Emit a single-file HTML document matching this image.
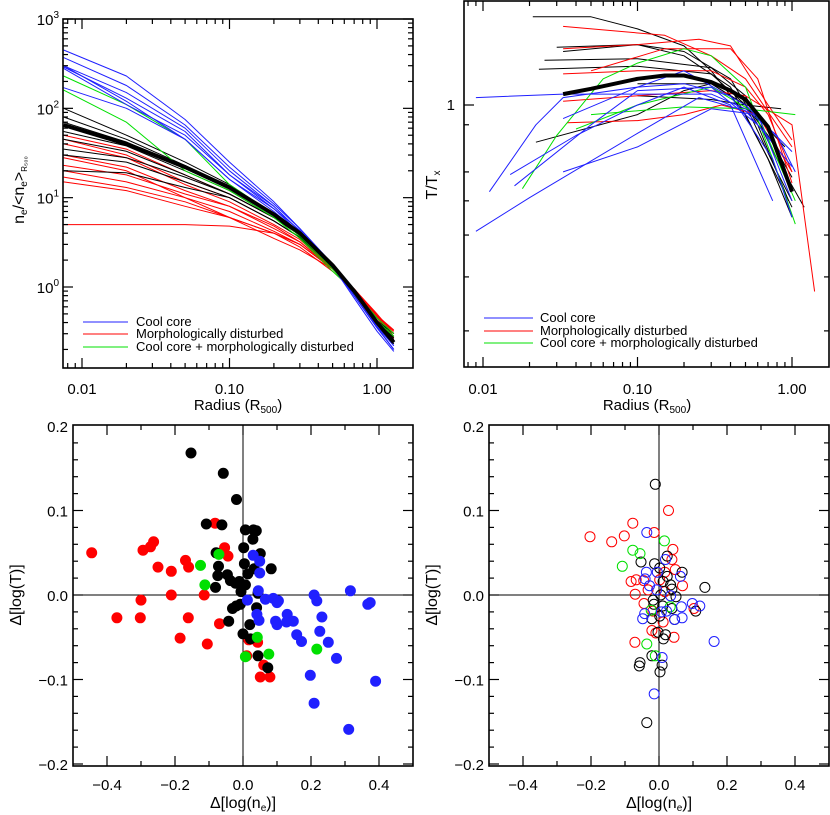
<!DOCTYPE html>
<html><head><meta charset="utf-8"><style>
html,body{margin:0;padding:0;background:#fff;}
svg{display:block;font-family:"Liberation Sans",sans-serif;}
</style></head><body>
<svg id="fig" width="830" height="815" viewBox="0 0 830 815" xmlns="http://www.w3.org/2000/svg"></svg>
<script>
// ---------- DATA ----------
const neRadii = [0.0075,0.02,0.05,0.1,0.2,0.3,0.5,0.7,1.0,1.3];
const neBlue = [
 [450,230,75,25,9,4.5,1.8,0.8,0.35,0.2],
 [370,180,65,22,8.5,4.5,1.8,0.8,0.35,0.2],
 [300,150,60,20,8,4.2,1.7,0.75,0.32,0.19],
 [290,130,55,18,7.5,4,1.7,0.8,0.35,0.2],
 [280,110,50,18,8,4.2,1.8,0.8,0.36,0.22],
 [170,100,45,16,7,4,1.7,0.8,0.36,0.22],
 [300,120,45,16,7.5,4.3,1.8,0.85,0.4,0.24]];
const neGreen = [
 [230,110,45,14,6.5,3.7,1.6,0.85,0.42,0.28],
 [160,70,20,12,6,3.5,1.5,0.9,0.45,0.3]];
const neBlack = [
 [100,50,25,14,6.5,4,1.7,0.85,0.38,0.23],
 [80,45,23,13,6.5,4,1.7,0.85,0.38,0.24],
 [70,42,22,13,6.5,4,1.7,0.85,0.4,0.25],
 [55,38,20,12,6,3.8,1.7,0.85,0.4,0.26],
 [45,33,18,11,6,3.8,1.7,0.85,0.4,0.27],
 [35,28,17,11,6,3.8,1.7,0.85,0.42,0.28],
 [30,25,15,10,5.5,3.6,1.65,0.85,0.42,0.28],
 [20,19,13,10,5.5,3.6,1.65,0.85,0.42,0.3]];
const neRed = [
 [50,35,18,11,6,3.8,1.6,0.9,0.45,0.3],
 [45,30,15,10,5.5,3.6,1.6,0.9,0.46,0.3],
 [40,28,14,9,5,3.4,1.6,0.9,0.47,0.32],
 [30,22,12,8,4.8,3.2,1.6,0.9,0.47,0.32],
 [23,18,11,8,4.5,3.2,1.6,0.95,0.48,0.33],
 [20,15,10,7,4.2,3,1.6,0.95,0.5,0.3],
 [17,13,9,6,4,3,1.6,0.95,0.48,0.28],
 [15,12,8,6,4,2.8,1.5,0.9,0.45,0.27],
 [5,5,5,4.8,4,3,1.6,0.95,0.48,0.3],
 [28,20,10,6,3.5,2.6,1.6,0.9,0.45,0.26]];
const neMean = [65,40,22,13,6.5,4,1.75,0.9,0.4,0.24];

const tBlueR = [[0.009,0.02,0.1,0.25,0.5,0.75,1.0],[0.009,0.033,0.3,0.5,0.8,1.05],[0.011,0.022,0.033,0.1,0.2,0.4,0.75,1.0],[0.015,0.04,0.1,0.2,0.4,0.75],[0.016,0.05,0.1,0.3,0.6,1.0],[0.033,0.1,0.3,0.6,1.0],[0.033,0.1,0.2,0.5,1.0]];
const tBlueT = [[0.51,0.61,0.86,1.04,0.97,0.82,0.63],[1.04,1.06,1.06,0.98,0.85,0.7],[0.63,0.9,1.04,1.1,1.12,1.05,0.75,0.55],[0.69,0.85,1.0,1.1,1.0,0.6],[0.65,0.9,1.08,1.1,0.9,0.72],[0.7,0.8,0.98,0.95,0.6],[0.93,1.1,1.2,1.0,0.78]];
const tRedR = [[0.033,0.15,0.3,0.5,1.0],[0.033,0.1,0.25,0.4,0.7,1.0],[0.035,0.1,0.2,0.35,0.6,1.0],[0.033,0.1,0.3,0.5,0.7,1.0],[0.033,0.1,0.3,0.5,1.0,1.4],[0.05,0.15,0.4,0.6,1.0]];
const tRedT = [[1.52,1.45,1.3,1.15,0.8],[1.35,1.38,1.42,1.37,1.0,0.83],[0.91,0.92,0.95,1.0,0.95,0.7],[1.18,1.2,1.2,1.1,0.95,0.7],[1.02,1.05,1.08,1.05,0.9,0.37],[1.2,1.35,1.35,1.15,0.66]];
const tGreenR = [[0.018,0.03,0.06,0.1,0.2,0.3,0.5,0.75,1.05],[0.05,0.2,0.5,1.05],[0.04,0.1,0.3,0.6,1.05]];
const tGreenT = [[0.64,0.85,1.15,1.25,1.35,1.3,1.1,0.75,0.53],[0.95,0.99,0.98,0.95],[0.88,1.0,1.1,0.95,0.6]];
const tBlackR = [[0.021,0.05,0.1,0.2,0.3,0.5,0.7,1.0],[0.033,0.1,0.2,0.4,0.7,1.0],[0.025,0.1,0.3,0.5,0.8,1.2],[0.023,0.1,0.3,0.5,0.7,1.0],[0.022,0.1,0.2,0.3,0.5,0.9],[0.03,0.1,0.2,0.4,0.6,0.95],[0.1,0.3,0.5,0.85],[0.1,0.3,0.5,0.8,1.0]];
const tBlackT = [[1.6,1.6,1.5,1.37,1.2,0.95,0.75,0.55],[1.33,1.38,1.3,1.1,0.75,0.58],[1.27,1.28,1.22,1.05,0.75,0.58],[1.21,1.23,1.18,1.0,0.85,0.68],[0.82,0.95,1.08,1.12,1.0,0.8],[1.36,1.38,1.33,1.15,0.9,0.6],[1.05,1.03,1.0,0.98],[1.12,1.12,1.0,0.7,0.6]];
const tMeanR = [0.033,0.05,0.1,0.15,0.2,0.3,0.4,0.5,0.7,1.0];
const tMeanT = [1.06,1.09,1.15,1.17,1.17,1.13,1.08,1.03,0.89,0.63];

const s1BlackX=[-0.153,-0.058,-0.019,-0.108,-0.062,0.007,0.031,0.039,0.029,0.002,-0.079,0.051,0.004,-0.072,0.033,0.083,0.014,-0.074,-0.046,-0.037,-0.022,-0.011,0.007,-0.081,-0.006,0.044,-0.008,-0.020,-0.031,0.040,-0.042,0.020,0.0,0.022,0.044,0.073];
const s1BlackY=[0.168,0.144,0.113,0.084,0.083,0.077,0.077,0.076,0.066,0.056,0.050,0.049,0.037,0.034,0.031,0.031,0.025,0.023,0.024,0.017,0.014,0.016,0.012,0.009,0.004,0.002,-0.011,-0.013,-0.016,-0.015,-0.031,-0.035,-0.046,-0.052,-0.072,-0.086];
const s1RedX=[-0.445,-0.294,-0.272,-0.263,-0.250,-0.211,-0.169,-0.160,-0.082,-0.054,-0.044,-0.211,-0.114,-0.300,-0.371,-0.302,-0.161,-0.069,-0.185,-0.105,0.017,0.043,0.011,0.061,0.051,0.079];
const s1RedY=[0.050,0.053,0.057,0.063,0.033,0.028,0.041,0.033,0.085,0.056,0.046,0.0,0.0,-0.006,-0.027,-0.027,-0.027,-0.034,-0.051,-0.058,-0.053,-0.056,-0.072,-0.083,-0.097,-0.097];
const s1GreenX=[-0.125,-0.112,-0.071,0.042,0.007,0.076,0.217];
const s1GreenY=[0.035,0.012,0.048,-0.050,-0.073,-0.070,-0.064];
const s1BlueX=[0.030,0.049,0.049,0.045,0.013,0.066,0.089,0.104,0.100,0.209,0.217,0.316,0.367,0.374,0.041,0.047,0.096,0.100,0.130,0.128,0.148,0.232,0.158,0.172,0.226,0.251,0.275,0.390,0.198,0.209,0.311];
const s1BlueY=[0.047,0.040,0.026,0.005,-0.006,-0.005,-0.004,-0.007,-0.009,0.0,-0.007,0.005,-0.011,-0.009,-0.023,-0.030,-0.031,-0.035,-0.023,-0.032,-0.031,-0.026,-0.047,-0.055,-0.043,-0.056,-0.075,-0.102,-0.095,-0.128,-0.159];

const s2BlackX=[-0.011,-0.053,0.024,-0.013,0.002,0.068,0.024,0.012,0.034,0.038,0.135,0.005,0.050,-0.017,-0.015,0.011,0.038,0.002,-0.021,0.046,-0.003,0.013,0.019,-0.021,-0.056,-0.058,0.009,0.003,-0.036,0.108];
const s2BlackY=[0.131,0.039,0.046,0.037,0.032,0.027,0.022,0.016,0.012,0.007,0.009,0.0,-0.002,-0.006,-0.011,-0.013,-0.016,-0.025,-0.028,-0.029,-0.044,-0.052,-0.047,-0.072,-0.080,-0.084,-0.083,-0.091,-0.151,-0.019];
const s2RedX=[-0.203,-0.139,-0.102,-0.077,0.028,-0.014,0.041,0.038,0.048,-0.082,-0.067,-0.045,-0.032,0.017,0.002,0.069,-0.070,-0.044,0.103,-0.018,0.012,-0.021,-0.009,0.044,-0.071,0.017];
const s2RedY=[0.069,0.063,0.070,0.085,0.100,0.074,0.054,0.042,0.030,0.016,0.018,0.017,0.006,0.027,0.018,0.011,0.001,-0.010,-0.016,-0.019,-0.032,-0.042,-0.045,-0.050,-0.056,0.004];
const s2GreenX=[0.016,-0.077,-0.056,-0.108,0.033,-0.023,-0.036,-0.011];
const s2GreenY=[0.064,0.053,0.049,0.034,-0.014,-0.018,-0.058,-0.072];
const s2BlueX=[-0.036,0.019,-0.037,-0.041,-0.005,-0.028,0.063,0.034,0.066,0.098,0.120,-0.042,-0.048,0.007,0.022,0.046,0.068,0.009,0.162,-0.014,-0.007];
const s2BlueY=[0.074,0.042,0.027,0.019,0.027,0.011,0.022,-0.001,-0.014,-0.010,-0.013,-0.022,-0.028,-0.020,-0.019,-0.029,-0.027,-0.074,-0.055,-0.117,0.006];

const xTickLabelsLog=["0.01","0.10","1.00"];
const scatXTicks=["−0.4","−0.2","0.0","0.2","0.4"];
const scatYTicks=["−0.2","−0.1","0.0","0.1","0.2"];

// ---------- DRAWING ----------
const NS="http://www.w3.org/2000/svg";
const svg=document.getElementById('fig');
function el(tag,attrs,parent){const e=document.createElementNS(NS,tag);for(const k in attrs)e.setAttribute(k,attrs[k]);(parent||svg).appendChild(e);return e;}
const C={blue:"#2020ff",red:"#ff0000",green:"#00e000",black:"#000"};

function logAxis(x0,x1,lo,hi){return v=>x0+(Math.log10(v)-lo)/(hi-lo)*(x1-x0);}
function linAxis(p0,p1,lo,hi){return v=>p0+(v-lo)/(hi-lo)*(p1-p0);}

function frame(g,L,T,R,B){
  const f=el('rect',{x:L,y:T,width:R-L,height:B-T,fill:'none',stroke:'#000','stroke-width':1.6},g);
  
  
}
function tickX(g,px,T,B,len){el('line',{x1:px,y1:B,x2:px,y2:B-len,stroke:'#000','stroke-width':1.2},g);el('line',{x1:px,y1:T,x2:px,y2:T+len,stroke:'#000','stroke-width':1.2},g);}
function tickY(g,py,L,R,len){el('line',{x1:L,y1:py,x2:L+len,y2:py,stroke:'#000','stroke-width':1.2},g);el('line',{x1:R,y1:py,x2:R-len,y2:py,stroke:'#000','stroke-width':1.2},g);}
function text(g,x,y,s,anchor,size){const t=el('text',{x:x,y:y,'text-anchor':anchor||'middle','font-size':size||15,fill:'#000'},g);t.textContent=s;return t;}
function poly(g,xs,ys,color,w,name){
  const p=el('polyline',{points:xs.map((x,i)=>x.toFixed(1)+','+ys[i].toFixed(1)).join(' '),fill:'none',stroke:color,'stroke-width':w,'stroke-linejoin':'round'},g);
  
  
}
function legend(g,x0,x1,tx,ys){
  const items=[["Cool core",C.blue],["Morphologically disturbed",C.red],["Cool core + morphologically disturbed",C.green]];
  items.forEach((it,i)=>{
    const lg=el('g',{},g);
    
    
    el('line',{x1:x0,y1:ys[i],x2:x1,y2:ys[i],stroke:it[1],'stroke-width':1},lg);
    text(lg,tx,ys[i]+4,it[0],'start',13);
  });
}

(function(){
  const g=el('g',{});  
  const L=63,R=413,T=19,B=368;
  const X=logAxis(82,377,-2,0), Y=logAxis(287,19,0,3);
  const cp=el('clipPath',{id:'c1'},g); el('rect',{x:L,y:T,width:R-L,height:B-T},cp);
  const lines=el('g',{'clip-path':'url(#c1)'},g);
  const draw=(arr,col,name)=>arr.forEach(v=>poly(lines,neRadii.map(X),v.map(Y),col,1,name));
  draw(neRed,C.red,'red-density-curve');
  draw(neBlack,C.black,'black-density-curve');
  draw(neGreen,C.green,'green-density-curve');
  draw(neBlue,C.blue,'blue-density-curve');
  poly(lines,neRadii.map(X),neMean.map(Y),C.black,4,'mean-density-curve');
  frame(g,L,T,R,B);
  for(let d=-3;d<=0;d++)for(let m=1;m<10;m++){const v=m*Math.pow(10,d);const px=X(v);if(px>L+1&&px<R-1)tickX(g,px,T,B,m==1?10:5);}
  for(let d=-1;d<=2;d++)for(let m=1;m<10;m++){const v=m*Math.pow(10,d);const py=Y(v);if(py>T+1&&py<B-1)tickY(g,py,L,R,m==1?10:5);}
  tickY(g,T,L,R,10);
  xTickLabelsLog.forEach((s,i)=>text(g,X(Math.pow(10,i-2)),394,s));
  [0,1,2,3].forEach(e=>{const t=text(g,59,Y(Math.pow(10,e))+6,'10','end',15);const ts=el('tspan',{dy:-7,'font-size':10},t);ts.textContent=e;});
  const xl=text(g,238,410,'Radius (R'); const s=el('tspan',{dy:3,'font-size':10},xl); s.textContent='500'; const s2=el('tspan',{dy:-3},xl); s2.textContent=')';
   
  const yl=el('text',{transform:'translate(24,190) rotate(-90)','text-anchor':'middle','font-size':16},g);
   
  yl.innerHTML='n<tspan dy="3" font-size="10">e</tspan><tspan dy="-3">/&lt;n</tspan><tspan dy="3" font-size="10">e</tspan><tspan dy="-3">&gt;</tspan><tspan dy="3" font-size="8">R₅₀₀</tspan>';
  legend(g,83,128,136,[322,334,347]);
})();

(function(){
  const g=el('g',{});  
  const L=464,R=829,T=1,B=367;
  const X=logAxis(483,792,-2,0), Y=linAxis(105,537,0,-1); const YT=v=>Y(Math.log10(v));
  const cp=el('clipPath',{id:'c2'},g); el('rect',{x:L,y:T,width:R-L,height:B-T},cp);
  const lines=el('g',{'clip-path':'url(#c2)'},g);
  const draw=(rs,ts,col,name)=>rs.forEach((r,i)=>poly(lines,r.map(X),ts[i].map(YT),col,1,name));
  draw(tBlackR,tBlackT,C.black,'black-temperature-curve');
  draw(tRedR,tRedT,C.red,'red-temperature-curve');
  draw(tGreenR,tGreenT,C.green,'green-temperature-curve');
  draw(tBlueR,tBlueT,C.blue,'blue-temperature-curve');
  poly(lines,tMeanR.map(X),tMeanT.map(YT),C.black,4,'mean-temperature-curve');
  frame(g,L,T,R,B);
  for(let d=-3;d<=0;d++)for(let m=1;m<10;m++){const v=m*Math.pow(10,d);const px=X(v);if(px>L+1&&px<R-1)tickX(g,px,T,B,m==1?10:5);}
  [0.3,0.4,0.5,0.6,0.7,0.9,1].forEach(v=>tickY(g,YT(v),L,R,v==1?10:5));
  xTickLabelsLog.forEach((s,i)=>text(g,X(Math.pow(10,i-2)),394,s));
  text(g,455,110,'1','end',15);
  const xl=text(g,647,410,'Radius (R'); const s=el('tspan',{dy:3,'font-size':10},xl); s.textContent='500'; const s2=el('tspan',{dy:-3},xl); s2.textContent=')';
   
  const yl=el('text',{transform:'translate(437,185) rotate(-90)','text-anchor':'middle','font-size':16},g);
   
  yl.innerHTML='T/T<tspan dy="3" font-size="10">x</tspan>';
  legend(g,484,533,540,[318,331,343]);
})();

function scatter(name,L,R,xLabelX,sets,filled,ylabX,tickLabX){
  const T=425,B=766;
  const g=el('g',{});  
  const X=linAxis(L,R,-0.5,0.5), Y=linAxis(595,510.5,0,0.1);
  el('line',{x1:L,y1:Y(0),x2:R,y2:Y(0),stroke:'#000','stroke-width':1},g);
  el('line',{x1:X(0),y1:T,x2:X(0),y2:B,stroke:'#000','stroke-width':1},g);
  sets.forEach(s=>{
    s.x.forEach((xv,i)=>{
      const c=el('circle',{cx:X(xv).toFixed(1),cy:Y(s.y[i]).toFixed(1),r:filled?5:5,fill:filled?s.c:'none',stroke:s.c,'stroke-width':1},g);
      
      
    });
  });
  frame(g,L,T,R,B);
  for(let k=-4;k<=4;k++){tickX(g,X(k/10),T,B,k%2==0?10:5);}
  for(let k=-10;k<=10;k++){const py=Y(k/50);if(py>T+1&&py<B-1)tickY(g,py,L,R,k%5==0?10:5);}
  scatXTicks.forEach((s,i)=>text(g,X(-0.4+0.2*i),790,s));
  scatYTicks.forEach((s,i)=>text(g,tickLabX,Y(-0.2+0.1*i)+6,s,'end'));
  const xl=el('text',{x:xLabelX,y:808,'text-anchor':'middle','font-size':16},g);
   
  xl.innerHTML='Δ[log(n<tspan dy="3" font-size="10">e</tspan><tspan dy="-3">)]</tspan>';
  const yl=el('text',{transform:`translate(${ylabX},595) rotate(-90)`,'text-anchor':'middle','font-size':16},g);
   
  yl.textContent='Δ[log(T)]';
}
scatter('scatter-filled-panel',73,413,243,[
  {x:s1RedX,y:s1RedY,c:C.red,n:'red-point'},
  {x:s1BlackX,y:s1BlackY,c:C.black,n:'black-point'},
  {x:s1GreenX,y:s1GreenY,c:C.green,n:'green-point'},
  {x:s1BlueX,y:s1BlueY,c:C.blue,n:'blue-point'}],true,21,68);
scatter('scatter-open-panel',489,829,659,[
  {x:s2RedX,y:s2RedY,c:C.red,n:'red-point'},
  {x:s2BlackX,y:s2BlackY,c:C.black,n:'black-point'},
  {x:s2GreenX,y:s2GreenY,c:C.green,n:'green-point'},
  {x:s2BlueX,y:s2BlueY,c:C.blue,n:'blue-point'}],false,437,484);
</script>
</body></html>
